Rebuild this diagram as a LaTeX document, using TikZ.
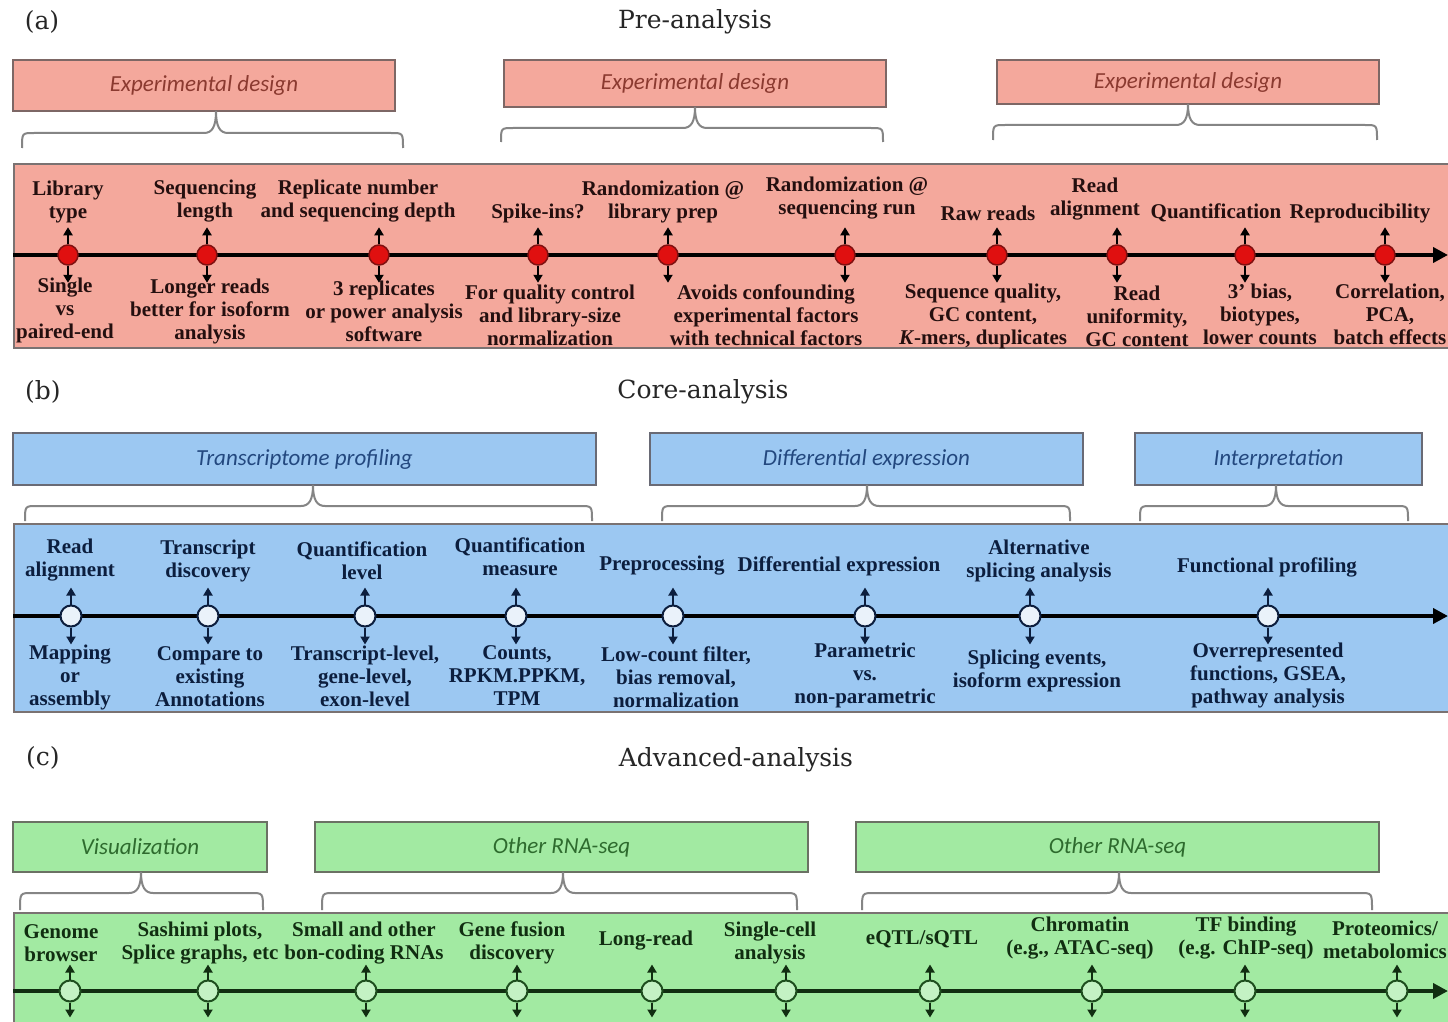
\documentclass[tikz,border=0pt]{standalone}
\usepackage{fontspec}
\setmainfont{Liberation Serif}
\newfontfamily\hdfont{Carlito}
\newfontfamily\ttlfont{DejaVu Serif}
\usetikzlibrary{arrows.meta,calc}
\definecolor{salA}{HTML}{F4A89C}
\definecolor{bluB}{HTML}{9CC8F2}
\definecolor{grnC}{HTML}{A2EAA2}
\definecolor{hdA}{HTML}{8B3A30}
\definecolor{hdB}{HTML}{23487F}
\definecolor{hdC}{HTML}{2E6B2E}
\definecolor{txA}{HTML}{240F0F}
\definecolor{txB}{HTML}{0C1E3E}
\definecolor{txC}{HTML}{112E11}
\definecolor{bdgray}{HTML}{7A7272}
\definecolor{brgray}{HTML}{858585}
\definecolor{redA}{HTML}{E01010}
\definecolor{dredA}{HTML}{801010}
\definecolor{ndB}{HTML}{EAF2FA}
\definecolor{ndC}{HTML}{C4F2C4}
\definecolor{dgrC}{HTML}{1E4E1E}
\newcommand{\mybrace}[6]{%
 \draw[brc] (#1,#5) .. controls (#1,#4) .. ({#1+12},#4) -- ({#3-12},#4)
   .. controls ({#3-4},#4) and (#3,{#4-6}) .. (#3,#6)
   .. controls (#3,{#4-6}) and ({#3+4},#4) .. ({#3+12},#4) -- ({#2-12},#4)
   .. controls (#2,#4) .. (#2,#5);}
\begin{document}
\begin{tikzpicture}[x=1pt,y=-1pt,
  ttl/.style={font=\ttlfont\fontsize{25}{28}\selectfont, text=black!85, inner sep=0pt},
  hdr/.style={rectangle, line width=1.6pt, inner sep=0pt, font=\hdfont\itshape\fontsize{23}{26}\selectfont},
  hdrA/.style={hdr, draw=bdgray!80!hdA, fill=salA, text=hdA},
  hdrB/.style={hdr, draw=bdgray!80!hdB, fill=bluB, text=hdB},
  hdrC/.style={hdr, draw=bdgray!80!hdC, fill=grnC, text=hdC},
  band/.style={rectangle, draw=bdgray, line width=1.6pt, inner sep=0pt, anchor=north west, minimum width=1460pt},
  lbl/.style={align=center, inner sep=0pt, font=\bfseries\fontsize{21}{23}\selectfont},
  lblA/.style={lbl, text=txA}, lblB/.style={lbl, text=txB}, lblC/.style={lbl, text=txC},
  ndA/.style={circle, minimum size=20pt, inner sep=0pt, fill=redA, draw=dredA, line width=1.5pt},
  ndB/.style={circle, minimum size=21pt, inner sep=0pt, fill=ndB, draw=txB, line width=2pt},
  ndC/.style={circle, minimum size=21pt, inner sep=0pt, fill=ndC, draw=dgrC, line width=2pt},
  arr/.style={line width=2.4pt, -{Triangle[length=8pt,width=9pt]}},
  tl/.style={line width=4.5pt, -{Triangle[length=15pt,width=15pt]}},
  brc/.style={draw=brgray, line width=2pt}
]
\useasboundingbox[fill=white] (0,0) rectangle (1448,1022);

% ================= (a) =================
\node[ttl] (lab-a) at (42,22) {(a)};
\node[ttl] (tit-a) at (695,22) {Pre-analysis};
\node[hdrA, minimum width=382pt, minimum height=51pt] (ha1) at (204,85.5) {Experimental design};
\node[hdrA, minimum width=382pt, minimum height=47pt] (ha2) at (695,83.5) {Experimental design};
\node[hdrA, minimum width=382pt, minimum height=44pt] (ha3) at (1188,82) {Experimental design};
\mybrace{22}{403}{216}{133}{148}{111}
\mybrace{501}{883}{695}{128}{142}{107}
\mybrace{993}{1377}{1188}{125}{140}{104}
\node[band, fill=salA, minimum height=184pt] (bandA) at (13,163) {};
\coordinate (aS) at (13,255);
\coordinate (aE) at (1448,255);
\draw[tl, draw=black] (aS) -- (aE);
\foreach \i/\x in {1/68,2/207,3/379,4/538,5/668,6/845,7/997,8/1117,9/1245,10/1385}{
  \node[ndA] (a\i) at (\x,255) {};
  \draw[arr, draw=black, fill=black] (a\i.north) -- ++(0,-17);
  \draw[arr, draw=black, fill=black] (a\i.south) -- ++(0,17);
}
\node[lblA] (ta1) at (68,202) {Library\\type};
\node[lblA] (ta2) at (205,201.5) {Sequencing\\length};
\node[lblA] (ta3) at (358,201.5) {Replicate number\\and sequencing depth};
\node[lblA] (ta4) at (538,213) {Spike-ins?};
\node[lblA] (ta5) at (663,201.5) {Randomization @\\library prep};
\node[lblA] (ta6) at (847,198.5) {Randomization @\\sequencing run};
\node[lblA] (ta7) at (988,213) {Raw reads};
\node[lblA] (ta8) at (1095,199) {Read\\alignment};
\node[lblA] (ta9) at (1216,213) {Quantification};
\node[lblA] (ta10) at (1360,213) {Reproducibility};
\node[lblA] (ba1) at (65,310) {Single\\vs\\paired-end};
\node[lblA] (ba2) at (210,311) {Longer reads\\better for isoform\\analysis};
\node[lblA] (ba3) at (384,311) {3 replicates\\or power analysis\\software};
\node[lblA] (ba4) at (550,315) {For quality control\\and library-size\\normalization};
\node[lblA] (ba5) at (766,315) {Avoids confounding\\experimental factors\\with technical factors};
\node[lblA] (ba6) at (983,316) {Sequence quality,\\GC content,\\\textit{K}-mers, duplicates};
\node[lblA] (ba7) at (1137,316) {Read\\uniformity,\\GC content};
\node[lblA] (ba8) at (1260,314) {3' bias,\\biotypes,\\lower counts};
\node[lblA] (ba9) at (1390,314) {Correlation,\\PCA,\\batch effects};

% ================= (b) =================
\node[ttl] (lab-b) at (43,392) {(b)};
\node[ttl] (tit-b) at (703,392) {Core-analysis};
\node[hdrB, minimum width=583pt, minimum height=52pt] (hb1) at (304.5,459) {Transcriptome profiling};
\node[hdrB, minimum width=433pt, minimum height=52pt] (hb2) at (866.5,459) {Differential expression};
\node[hdrB, minimum width=287pt, minimum height=52pt] (hb3) at (1278.5,459) {Interpretation};
\mybrace{25}{592}{313}{506}{521}{485}
\mybrace{662}{1070}{867}{506}{521}{485}
\mybrace{1140}{1408}{1276}{506}{521}{485}
\node[band, fill=bluB, minimum height=188pt] (bandB) at (13,523) {};
\coordinate (bS) at (13,616);
\coordinate (bE) at (1448,616);
\draw[tl, draw=black] (bS) -- (bE);
\foreach \i/\x in {1/71,2/208,3/365,4/516,5/673,6/865,7/1030,8/1268}{
  \node[ndB] (b\i) at (\x,616) {};
  \draw[arr, draw=txB, fill=txB] (b\i.north) -- ++(0,-17);
  \draw[arr, draw=txB, fill=txB] (b\i.south) -- ++(0,17);
}
\node[lblB] (tb1) at (70,560.5) {Read\\alignment};
\node[lblB] (tb2) at (208,560.5) {Transcript\\discovery};
\node[lblB] (tb3) at (362,560.5) {Quantification\\level};
\node[lblB] (tb4) at (520,556.5) {Quantification\\measure};
\node[lblB] (tb5) at (662,566) {Preprocessing};
\node[lblB] (tb6) at (839,566) {Differential expression};
\node[lblB] (tb7) at (1039,561.5) {Alternative\\splicing analysis};
\node[lblB] (tb8) at (1267,567) {Functional profiling};
\node[lblB] (bb1) at (70,677) {Mapping\\or\\assembly};
\node[lblB] (bb2) at (210,677) {Compare to\\existing\\Annotations};
\node[lblB] (bb3) at (365,676) {Transcript-level,\\gene-level,\\exon-level};
\node[lblB] (bb4) at (517,676) {Counts,\\RPKM.PPKM,\\TPM};
\node[lblB] (bb5) at (676,677) {Low-count filter,\\bias removal,\\normalization};
\node[lblB] (bb6) at (865,675) {Parametric\\vs.\\non-parametric};
\node[lblB] (bb7) at (1037,671) {Splicing events,\\isoform expression};
\node[lblB] (bb8) at (1268,675) {Overrepresented\\functions, GSEA,\\pathway analysis};

% ================= (c) =================
\node[ttl] (lab-c) at (43,758) {(c)};
\node[ttl] (tit-c) at (736,760) {Advanced-analysis};
\node[hdrC, minimum width=254pt, minimum height=50pt] (hc1) at (140,847) {Visualization};
\node[hdrC, minimum width=493pt, minimum height=50pt] (hc2) at (561.5,847) {Other RNA-seq};
\node[hdrC, minimum width=523pt, minimum height=50pt] (hc3) at (1117.5,847) {Other RNA-seq};
\mybrace{20}{263}{141}{893}{910}{872}
\mybrace{322}{797}{563}{893}{910}{872}
\mybrace{862}{1372}{1119}{893}{910}{872}
\node[band, fill=grnC, minimum height=120pt] (bandC) at (13,912) {};
\coordinate (cS) at (13,991);
\coordinate (cE) at (1448,991);
\draw[tl, draw=txC] (cS) -- (cE);
\foreach \i/\x in {1/70,2/208,3/366,4/517,5/652,6/786,7/930,8/1092,9/1245,10/1397}{
  \node[ndC] (c\i) at (\x,991) {};
  \draw[arr, draw=txC, fill=txC] (c\i.north) -- ++(0,-15);
  \draw[arr, draw=txC, fill=txC] (c\i.south) -- ++(0,15);
}
\node[lblC] (tc1) at (61,943.5) {Genome\\browser};
\node[lblC] (tc2) at (200,943.5) {Sashimi plots,\\Splice graphs, etc};
\node[lblC] (tc3) at (364,943.5) {Small and other\\bon-coding RNAs};
\node[lblC] (tc4) at (512,942.5) {Gene fusion\\discovery};
\node[lblC] (tc5) at (646,941) {Long-read};
\node[lblC] (tc6) at (770,942.5) {Single-cell\\analysis};
\node[lblC] (tc7) at (922,939) {eQTL/sQTL};
\node[lblC] (tc8) at (1080,938) {Chromatin\\(e.g., ATAC-seq)};
\node[lblC] (tc9) at (1246,938) {TF binding\\(e.g. ChIP-seq)};
\node[lblC] (tc10) at (1385,940) {Proteomics/\\metabolomics};
\end{tikzpicture}
\end{document}
